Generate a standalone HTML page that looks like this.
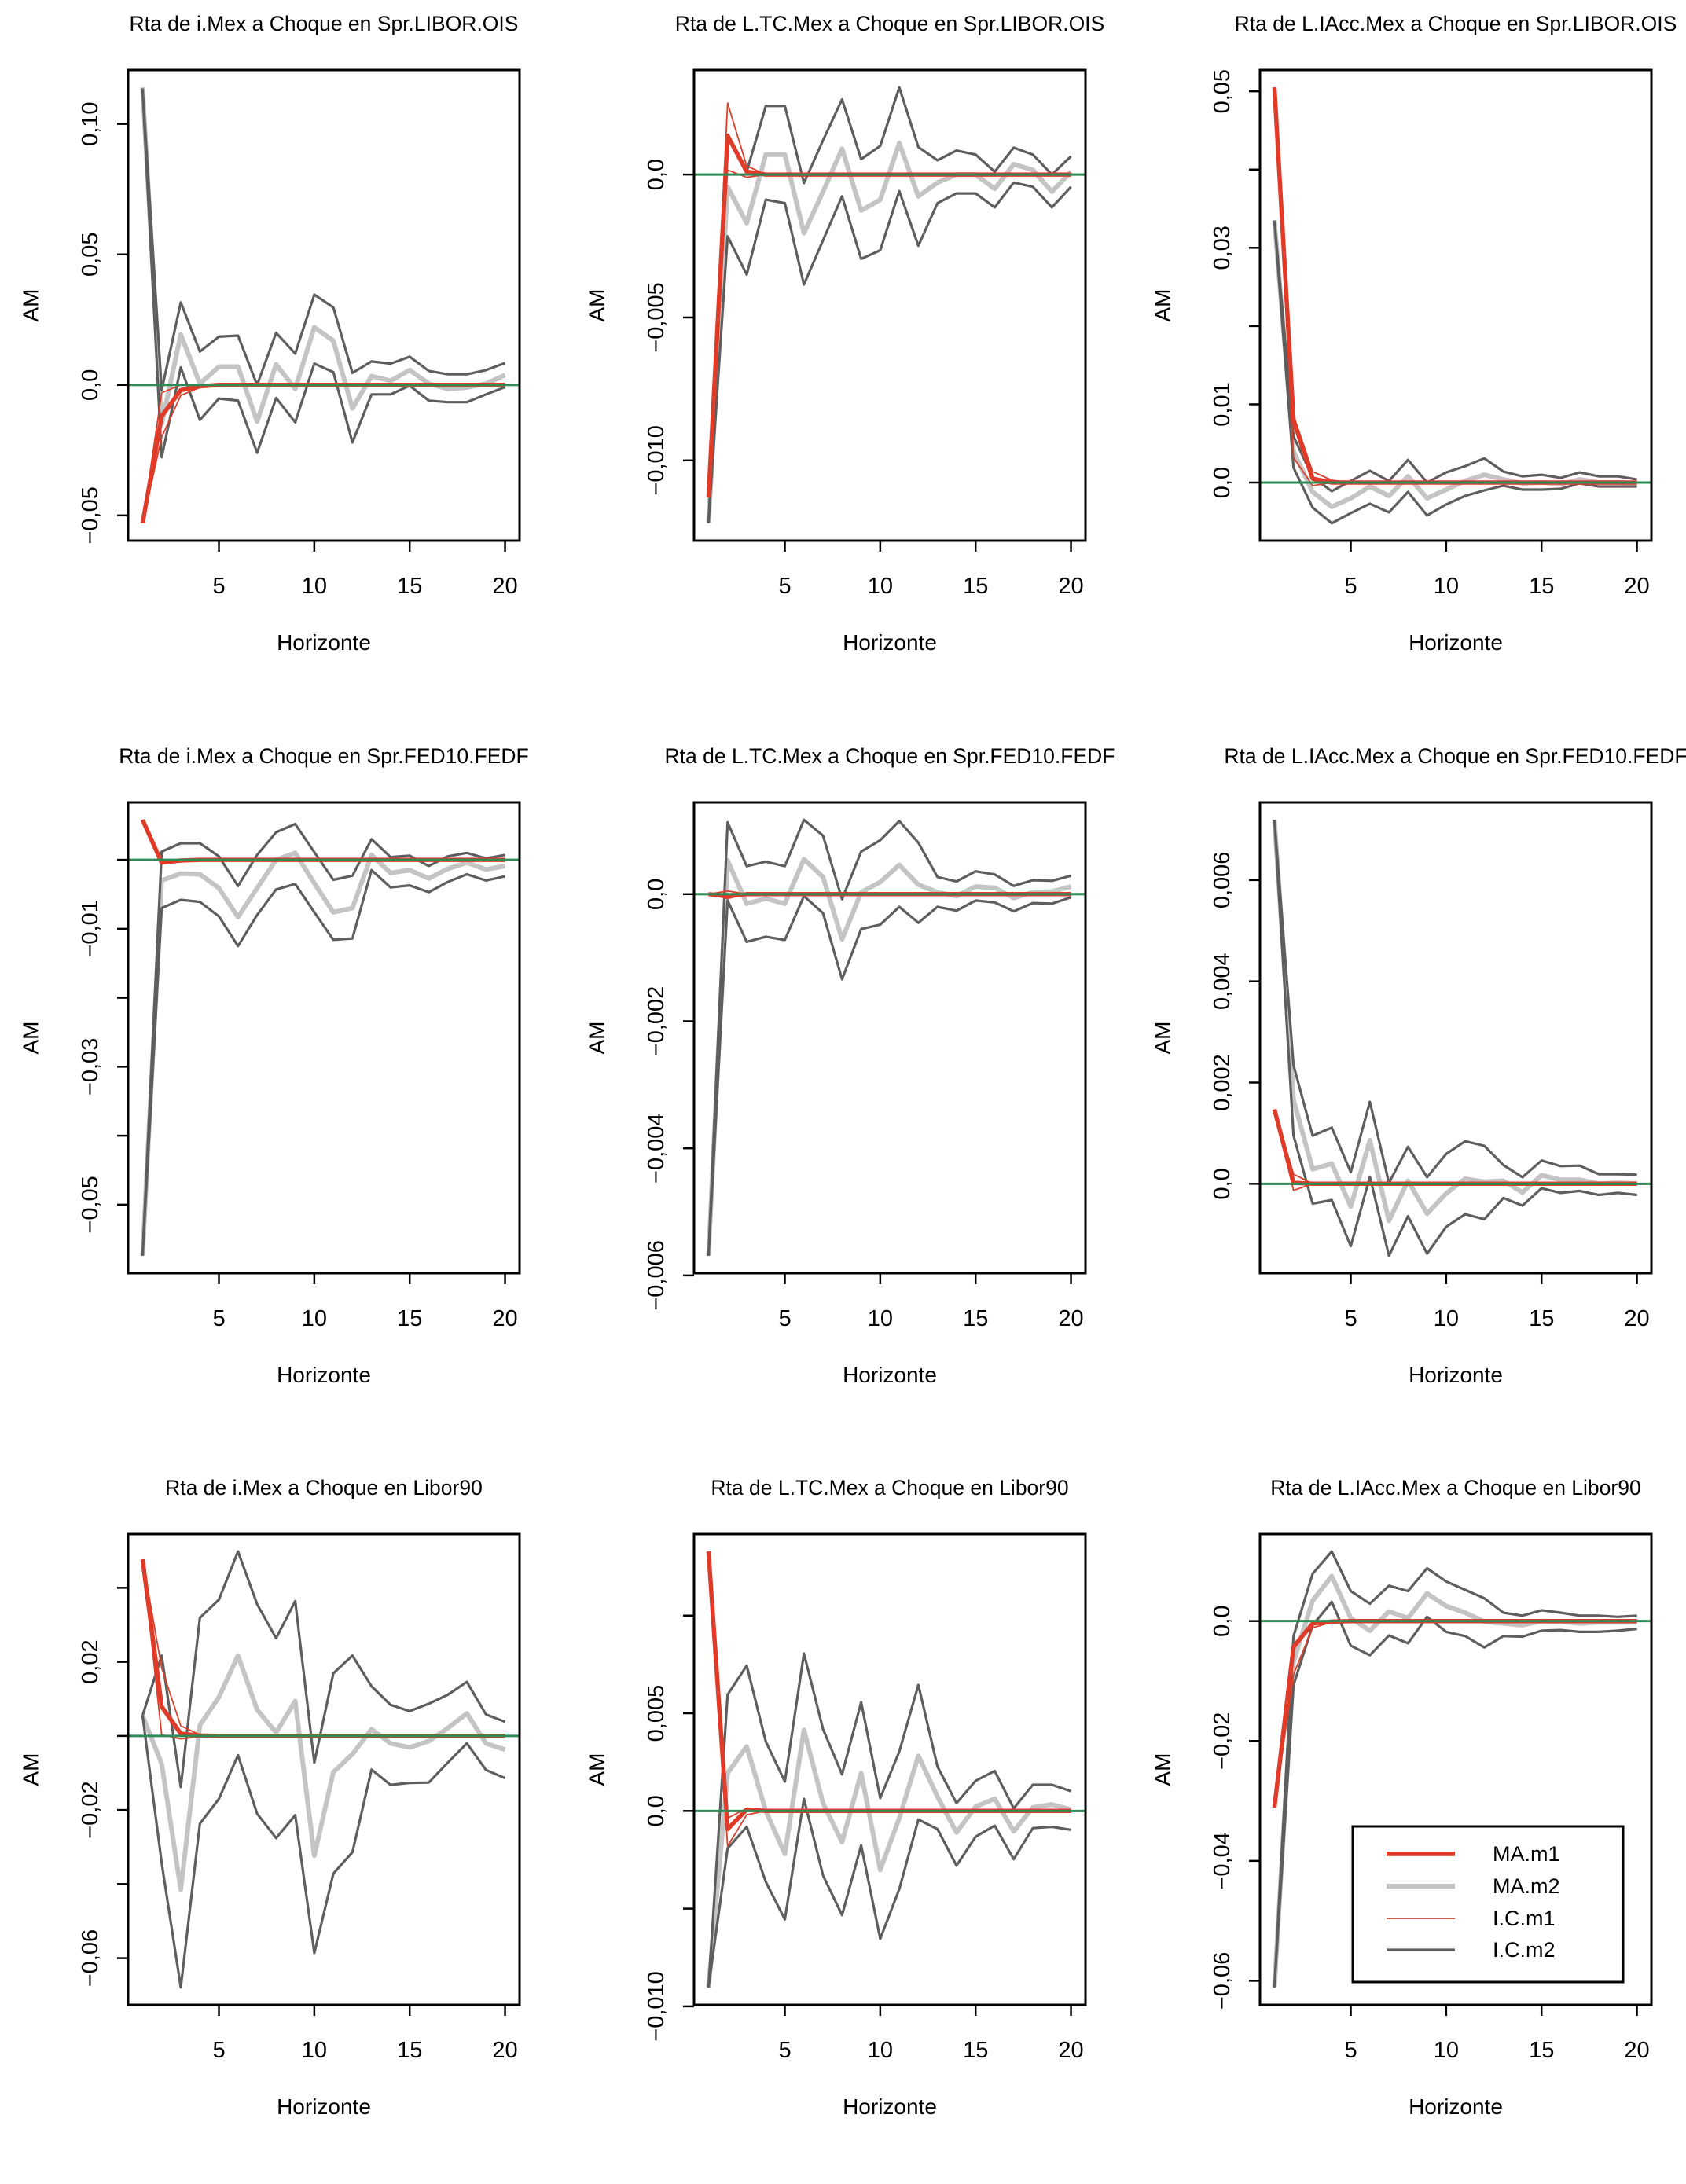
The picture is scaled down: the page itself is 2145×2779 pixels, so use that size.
<!DOCTYPE html>
<html><head><meta charset="utf-8"><style>
html,body{margin:0;padding:0;background:#fff;}
svg{display:block;font-family:"Liberation Sans",Arial,sans-serif;}
</style></head><body>
<svg id="fig" width="2145" height="2779" viewBox="0 0 2145 2779" xmlns="http://www.w3.org/2000/svg"></svg>
<script>
const horizons = [1,2,3,4,5,6,7,8,9,10,11,12,13,14,15,16,17,18,19,20];
const xTicks = [5,10,15,20];

// Panel 1: i.Mex / Spr.LIBOR.OIS
const p1_hi2 = [0.1136,-0.002,0.0316,0.0128,0.0185,0.0189,0.0,0.020,0.012,0.0346,0.0297,0.0046,0.009,0.0082,0.0108,0.0054,0.0041,0.0041,0.0057,0.0084];
const p1_lo2 = [0.113,-0.0277,0.0067,-0.0134,-0.0052,-0.006,-0.026,-0.005,-0.0143,0.0082,0.0049,-0.022,-0.0036,-0.0036,-0.0003,-0.006,-0.0066,-0.0066,-0.0036,-0.0008];
const p1_ma2 = [0.114,-0.015,0.0193,0.0005,0.007,0.007,-0.014,0.0079,-0.0015,0.0221,0.0169,-0.009,0.0034,0.0016,0.0057,0.0005,-0.0015,-0.001,0.0005,0.0038];
const p1_ma1 = [-0.053,-0.012,-0.002,-0.0005,0,0,0,0,0,0,0,0,0,0,0,0,0,0,0,0];
const p1_hi1 = [-0.053,-0.003,0,0,0,0,0,0,0,0,0,0,0,0,0,0,0,0,0,0];
const p1_lo1 = [-0.053,-0.02,-0.004,-0.001,0,0,0,0,0,0,0,0,0,0,0,0,0,0,0,0];
const p1_ticks = [-0.05,0,0.05,0.10];
const p1_tickLabels = ["−0,05","0,0","0,05","0,10"];

// Panel 2: L.TC.Mex / Spr.LIBOR.OIS
const p2_hi2 = [-0.0122,0.00129,0.0001,0.0024,0.0024,-0.0003,0.0012,0.00263,0.00054,0.001,0.00305,0.00096,0.0005,0.00084,0.0007,0.0001,0.00094,0.0007,0.0,0.00064];
const p2_lo2 = [-0.0122,-0.00216,-0.0035,-0.00088,-0.001,-0.00385,-0.0023,-0.00076,-0.00295,-0.00265,-0.00058,-0.00249,-0.001,-0.00066,-0.00066,-0.00115,-0.00028,-0.00043,-0.00115,-0.00043];
const p2_ma2 = [-0.0122,-0.00043,-0.0017,0.0007,0.0007,-0.00205,-0.0006,0.0009,-0.00126,-0.00088,0.0011,-0.00076,-0.00028,0.0,0.0,-0.0005,0.00036,0.00016,-0.0006,0.0001];
const p2_ma1 = [-0.0113,0.00136,0.0001,0,0,0,0,0,0,0,0,0,0,0,0,0,0,0,0,0];
const p2_hi1 = [-0.0113,0.0025,0.0003,0,0,0,0,0,0,0,0,0,0,0,0,0,0,0,0,0];
const p2_lo1 = [-0.0113,0.00016,-0.0001,0,0,0,0,0,0,0,0,0,0,0,0,0,0,0,0,0];
const p2_ticks = [-0.010,-0.005,0];
const p2_tickLabels = ["−0,010","−0,005","0,0"];

// Panel 3: L.IAcc.Mex / Spr.LIBOR.OIS
const p3_hi2 = [0.0335,0.0059,0.0007,-0.0011,0.0002,0.0015,0.0002,0.0029,0.0,0.0013,0.0021,0.0031,0.0014,0.0008,0.001,0.0006,0.0013,0.0008,0.0008,0.0004];
const p3_lo2 = [0.0335,0.0019,-0.0032,-0.0052,-0.0039,-0.0027,-0.0038,-0.0012,-0.0042,-0.0028,-0.0017,-0.001,-0.0004,-0.0009,-0.0009,-0.0008,-0.0001,-0.0005,-0.0005,-0.0005];
const p3_ma2 = [0.0335,0.004,-0.0012,-0.0031,-0.002,-0.0005,-0.0017,0.0008,-0.002,-0.0009,0.0002,0.001,0.0004,-0.0001,0.0,-0.0002,0.0004,0.0,0.0,-0.0001];
const p3_ma1 = [0.0505,0.008,0.0005,0,0,0,0,0,0,0,0,0,0,0,0,0,0,0,0,0];
const p3_hi1 = [0.0505,0.0086,0.0014,0.0003,0,0,0,0,0,0,0,0,0,0,0,0,0,0,0,0];
const p3_lo1 = [0.0505,0.0032,-0.0004,0,0,0,0,0,0,0,0,0,0,0,0,0,0,0,0,0];
const p3_ticks = [0,0.01,0.02,0.03,0.04,0.05];
const p3_tickLabels = ["0,0","0,01","","0,03","","0,05"];

// Panel 4: i.Mex / Spr.FED10.FEDF
const p4_hi2 = [-0.0574,0.0012,0.0024,0.0024,0.0005,-0.0038,0.0007,0.004,0.0052,0.0011,-0.0029,-0.0023,0.003,0.0004,0.0006,-0.0009,0.0005,0.001,0.0002,0.0007];
const p4_lo2 = [-0.0574,-0.007,-0.0058,-0.0061,-0.0082,-0.0125,-0.008,-0.0043,-0.0035,-0.0076,-0.0116,-0.0114,-0.0015,-0.004,-0.0037,-0.0047,-0.0032,-0.0021,-0.003,-0.0024];
const p4_ma2 = [-0.0574,-0.003,-0.002,-0.0021,-0.0041,-0.0083,-0.0041,0.0,0.001,-0.0034,-0.0076,-0.007,0.0007,-0.0019,-0.0015,-0.0027,-0.0013,-0.0004,-0.0014,-0.0009];
const p4_ma1 = [0.0058,-0.0004,-0.0001,0,0,0,0,0,0,0,0,0,0,0,0,0,0,0,0,0];
const p4_hi1 = [0.0058,0,0,0,0,0,0,0,0,0,0,0,0,0,0,0,0,0,0,0];
const p4_lo1 = [0.0058,-0.0006,-0.0002,0,0,0,0,0,0,0,0,0,0,0,0,0,0,0,0,0];
const p4_ticks = [-0.05,-0.04,-0.03,-0.02,-0.01,0];
const p4_tickLabels = ["−0,05","","−0,03","","−0,01",""];

// Panel 5: L.TC.Mex / Spr.FED10.FEDF
const p5_hi2 = [-0.00569,0.00113,0.00044,0.00051,0.00044,0.00117,0.00092,-0.00008,0.00067,0.00085,0.00115,0.00081,0.00027,0.0002,0.00036,0.00031,0.00013,0.00022,0.00021,0.00029];
const p5_lo2 = [-0.00569,-0.0001,-0.00075,-0.00067,-0.00072,-0.00003,-0.0003,-0.00134,-0.00055,-0.00048,-0.0002,-0.00045,-0.0002,-0.00026,-0.0001,-0.00013,-0.00027,-0.00014,-0.00015,-0.00005];
const p5_ma2 = [-0.00569,0.00053,-0.00015,-0.00007,-0.00015,0.00055,0.00027,-0.00071,0.00003,0.00019,0.00046,0.00015,0.00003,-0.00003,0.00012,0.0001,-0.00006,0.00003,0.00004,0.00012];
const p5_ma1 = [0,-0.00003,0,0,0,0,0,0,0,0,0,0,0,0,0,0,0,0,0,0];
const p5_hi1 = [0,0.00005,0,0,0,0,0,0,0,0,0,0,0,0,0,0,0,0,0,0];
const p5_lo1 = [0,-0.00007,0,0,0,0,0,0,0,0,0,0,0,0,0,0,0,0,0,0];
const p5_ticks = [-0.006,-0.004,-0.002,0];
const p5_tickLabels = ["−0,006","−0,004","−0,002","0,0"];

// Panel 6: L.IAcc.Mex / Spr.FED10.FEDF
const p6_hi2 = [0.00719,0.00234,0.00095,0.00111,0.00023,0.00162,0.00002,0.00073,0.00013,0.00059,0.00084,0.00075,0.00037,0.00013,0.00046,0.00035,0.00036,0.00019,0.00019,0.00018];
const p6_lo2 = [0.00719,0.00095,-0.00039,-0.00032,-0.00123,0.00014,-0.00142,-0.00064,-0.00138,-0.00085,-0.0006,-0.0007,-0.00028,-0.00043,-0.00009,-0.00018,-0.00014,-0.00022,-0.00018,-0.00022];
const p6_ma2 = [0.00719,0.00166,0.00029,0.0004,-0.00045,0.00086,-0.00073,0.00006,-0.00059,-0.00019,0.0001,0.00004,0.00006,-0.00017,0.00017,0.00008,0.00008,0.0,0.00002,0.0];
const p6_ma1 = [0.00147,0.00002,0,0,0,0,0,0,0,0,0,0,0,0,0,0,0,0,0,0];
const p6_hi1 = [0.00147,0.00019,0,0,0,0,0,0,0,0,0,0,0,0,0,0,0,0,0,0];
const p6_lo1 = [0.00147,-0.00013,0,0,0,0,0,0,0,0,0,0,0,0,0,0,0,0,0,0];
const p6_ticks = [0,0.002,0.004,0.006];
const p6_tickLabels = ["0,0","0,002","0,004","0,006"];

// Panel 7: i.Mex / Libor90
const p7_hi2 = [0.0055,0.0217,-0.0138,0.0319,0.0368,0.0498,0.0356,0.0264,0.0364,-0.0072,0.0169,0.0217,0.0134,0.0084,0.0067,0.0087,0.0111,0.0146,0.0058,0.0038];
const p7_lo2 = [0.0055,-0.0343,-0.0679,-0.0237,-0.017,-0.0052,-0.021,-0.0276,-0.0214,-0.0586,-0.0372,-0.0314,-0.0091,-0.0132,-0.0127,-0.0126,-0.0072,-0.002,-0.0092,-0.0114];
const p7_ma2 = [0.0055,-0.0075,-0.0415,0.0029,0.0105,0.0217,0.0071,0.0009,0.0094,-0.0323,-0.0098,-0.0049,0.0018,-0.002,-0.0031,-0.0014,0.0021,0.0061,-0.002,-0.0037];
const p7_ma1 = [0.0477,0.0079,0.0006,0.0001,0,0,0,0,0,0,0,0,0,0,0,0,0,0,0,0];
const p7_hi1 = [0.0477,0.0183,0.0027,0.0003,0,0,0,0,0,0,0,0,0,0,0,0,0,0,0,0];
const p7_lo1 = [0.0477,0.0003,-0.0008,-0.0002,0,0,0,0,0,0,0,0,0,0,0,0,0,0,0,0];
const p7_ticks = [-0.06,-0.04,-0.02,0,0.02,0.04];
const p7_tickLabels = ["−0,06","","−0,02","","0,02",""];

// Panel 8: L.TC.Mex / Libor90
const p8_hi2 = [-0.00903,0.00595,0.00744,0.00355,0.0015,0.00806,0.00419,0.00187,0.00557,0.00066,0.00304,0.00645,0.00227,0.0004,0.00154,0.00205,0.00013,0.00134,0.00134,0.00101];
const p8_lo2 = [-0.00903,-0.00192,-0.00081,-0.00363,-0.00555,0.00062,-0.0033,-0.00533,-0.00176,-0.00654,-0.004,-0.00044,-0.00093,-0.0028,-0.00132,-0.00075,-0.00247,-0.00088,-0.00081,-0.00097];
const p8_ma2 = [-0.00903,0.00194,0.0033,0.0,-0.0022,0.00414,0.0004,-0.00159,0.00194,-0.00302,-0.00037,0.00282,0.00073,-0.0011,0.00022,0.00062,-0.00104,0.00018,0.00033,0.00007];
const p8_ma1 = [0.01328,-0.00093,0.00007,0,0,0,0,0,0,0,0,0,0,0,0,0,0,0,0,0];
const p8_hi1 = [0.01328,-0.00037,0.00013,0,0,0,0,0,0,0,0,0,0,0,0,0,0,0,0,0];
const p8_lo1 = [0.01328,-0.0018,-0.0002,0,0,0,0,0,0,0,0,0,0,0,0,0,0,0,0,0];
const p8_ticks = [-0.010,-0.005,0,0.005,0.010];
const p8_tickLabels = ["−0,010","","0,0","0,005",""];

// Panel 9: L.IAcc.Mex / Libor90
const p9_hi2 = [-0.0611,-0.0025,0.0079,0.0116,0.005,0.0029,0.0059,0.005,0.0088,0.0066,0.0052,0.0038,0.0014,0.0009,0.0018,0.0014,0.0009,0.0009,0.0007,0.0009];
const p9_lo2 = [-0.0611,-0.0107,-0.0007,0.0032,-0.0041,-0.0057,-0.0024,-0.0037,0.0007,-0.0018,-0.0025,-0.0044,-0.0025,-0.0026,-0.0016,-0.0015,-0.0018,-0.0018,-0.0016,-0.0013];
const p9_ma2 = [-0.0611,-0.0068,0.0034,0.0075,0.0005,-0.0016,0.0016,0.0005,0.0046,0.0025,0.0014,-0.0001,-0.0004,-0.0007,0.0,-0.0001,-0.0004,-0.0002,-0.0002,-0.0002];
const p9_ma1 = [-0.0311,-0.0043,-0.0004,-0.0001,0,0,0,0,0,0,0,0,0,0,0,0,0,0,0,0];
const p9_hi1 = [-0.0311,-0.0039,-0.0002,0,0,0,0,0,0,0,0,0,0,0,0,0,0,0,0,0];
const p9_lo1 = [-0.0311,-0.0089,-0.0011,-0.0002,0,0,0,0,0,0,0,0,0,0,0,0,0,0,0,0];
const p9_ticks = [-0.06,-0.04,-0.02,0];
const p9_tickLabels = ["−0,06","−0,04","−0,02","0,0"];

const panelTitles = [
 "Rta de i.Mex a Choque en Spr.LIBOR.OIS","Rta de L.TC.Mex a Choque en Spr.LIBOR.OIS","Rta de L.IAcc.Mex a Choque en Spr.LIBOR.OIS",
 "Rta de i.Mex a Choque en Spr.FED10.FEDF","Rta de L.TC.Mex a Choque en Spr.FED10.FEDF","Rta de L.IAcc.Mex a Choque en Spr.FED10.FEDF",
 "Rta de i.Mex a Choque en Libor90","Rta de L.TC.Mex a Choque en Libor90","Rta de L.IAcc.Mex a Choque en Libor90"];
const legendLabels = ["MA.m1","MA.m2","I.C.m1","I.C.m2"];

const panels = [
 {hi2:p1_hi2,lo2:p1_lo2,ma2:p1_ma2,ma1:p1_ma1,hi1:p1_hi1,lo1:p1_lo1,ticks:p1_ticks,labels:p1_tickLabels},
 {hi2:p2_hi2,lo2:p2_lo2,ma2:p2_ma2,ma1:p2_ma1,hi1:p2_hi1,lo1:p2_lo1,ticks:p2_ticks,labels:p2_tickLabels},
 {hi2:p3_hi2,lo2:p3_lo2,ma2:p3_ma2,ma1:p3_ma1,hi1:p3_hi1,lo1:p3_lo1,ticks:p3_ticks,labels:p3_tickLabels},
 {hi2:p4_hi2,lo2:p4_lo2,ma2:p4_ma2,ma1:p4_ma1,hi1:p4_hi1,lo1:p4_lo1,ticks:p4_ticks,labels:p4_tickLabels},
 {hi2:p5_hi2,lo2:p5_lo2,ma2:p5_ma2,ma1:p5_ma1,hi1:p5_hi1,lo1:p5_lo1,ticks:p5_ticks,labels:p5_tickLabels},
 {hi2:p6_hi2,lo2:p6_lo2,ma2:p6_ma2,ma1:p6_ma1,hi1:p6_hi1,lo1:p6_lo1,ticks:p6_ticks,labels:p6_tickLabels},
 {hi2:p7_hi2,lo2:p7_lo2,ma2:p7_ma2,ma1:p7_ma1,hi1:p7_hi1,lo1:p7_lo1,ticks:p7_ticks,labels:p7_tickLabels},
 {hi2:p8_hi2,lo2:p8_lo2,ma2:p8_ma2,ma1:p8_ma1,hi1:p8_hi1,lo1:p8_lo1,ticks:p8_ticks,labels:p8_tickLabels},
 {hi2:p9_hi2,lo2:p9_lo2,ma2:p9_ma2,ma1:p9_ma1,hi1:p9_hi1,lo1:p9_lo1,ticks:p9_ticks,labels:p9_tickLabels}];

const NS = "http://www.w3.org/2000/svg";
const svg = document.getElementById("fig");
function mk(tag, parent, attrs){ const e=document.createElementNS(NS,tag); for(const k in attrs) e.setAttribute(k,attrs[k]); parent.appendChild(e); return e; }

const colLeft=[163,883,1603], rowTop=[89,1021,1952], W=498, H=599;

panels.forEach((p,i)=>{
  const L=colLeft[i%3], T=rowTop[Math.floor(i/3)];
  const g=mk("g",svg,{});
  
  
  const all=[].concat(p.hi2,p.lo2,p.ma2,p.ma1,p.hi1,p.lo1);
  let mn=Math.min(...all), mx=Math.max(...all); const pad=(mx-mn)*0.04; mn-=pad; mx+=pad;
  const xs=v=>L+(v-0.24)/(20.76-0.24)*W;
  const ys=v=>T+H-(v-mn)/(mx-mn)*H;
  const t=mk("text",g,{x:L+W/2,y:T-50,"text-anchor":"middle","font-size":"26.5"}); t.textContent=panelTitles[i];
  
  
  const yl=mk("text",g,{x:L-124,y:T+H/2,"text-anchor":"middle","dominant-baseline":"central","font-size":"28",transform:`rotate(-90 ${L-124} ${T+H/2})`}); yl.textContent="AM";
  
  
  const xl=mk("text",g,{x:L+W/2,y:T+H+139,"text-anchor":"middle","font-size":"28"}); xl.textContent="Horizonte";
  
  
  xTicks.forEach(v=>{
    mk("line",g,{x1:xs(v),x2:xs(v),y1:T+H,y2:T+H+14,stroke:"#000","stroke-width":2.5});
    const tl=mk("text",g,{x:xs(v),y:T+H+67,"text-anchor":"middle","font-size":"29"}); tl.textContent=v;
    
    
  });
  p.ticks.forEach((v,k)=>{
    const y=ys(v);
    mk("line",g,{x1:L-14,x2:L,y1:y,y2:y,stroke:"#000","stroke-width":2.5});
    if(p.labels[k]){
      const tl=mk("text",g,{x:L-48,y:y,"text-anchor":"middle","dominant-baseline":"central","font-size":"29",transform:`rotate(-90 ${L-48} ${y})`}); tl.textContent=p.labels[k];
      
      
    }
  });
  const series=[["ma2","#c4c4c4",6,"ma-m2-line"],["hi2","#5e5e5e",3.2,"ci-m2-upper"],["lo2","#5e5e5e",3.2,"ci-m2-lower"],["hi1","#d9402c",1.8,"ci-m1-upper"],["lo1","#d9402c",1.8,"ci-m1-lower"],["ma1","#e03a28",5.5,"ma-m1-line"]];
  series.forEach(s=>{
    const d=p[s[0]].map((v,k)=>(k?"L":"M")+xs(horizons[k]).toFixed(1)+","+ys(v).toFixed(1)).join("");
    const pth=mk("path",g,{d:d,fill:"none",stroke:s[1],"stroke-width":s[2],"stroke-linejoin":"round"});
    
    
  });
  const z=mk("line",g,{x1:L,x2:L+W,y1:ys(0),y2:ys(0),stroke:"#2e8b57","stroke-width":3});
  
  
  const box=mk("rect",g,{x:L,y:T,width:W,height:H,fill:"none",stroke:"#000","stroke-width":3});
  
  
});

const lg=mk("g",svg,{});


mk("rect",lg,{x:1721,y:2324,width:344,height:198,fill:"#fff",stroke:"#000","stroke-width":3});
const legStyles=[["#e03a28",5.5],["#c4c4c4",6],["#d9402c",1.8],["#5e5e5e",3.2]];
const legY=[2359,2400,2441,2481];
legendLabels.forEach((lab,k)=>{
  const e=mk("g",lg,{});
  
  
  mk("line",e,{x1:1764,x2:1851,y1:legY[k],y2:legY[k],stroke:legStyles[k][0],"stroke-width":legStyles[k][1]});
  const tx=mk("text",e,{x:1899,y:legY[k],"dominant-baseline":"central","font-size":"27"}); tx.textContent=lab;
});
</script>
</body></html>
